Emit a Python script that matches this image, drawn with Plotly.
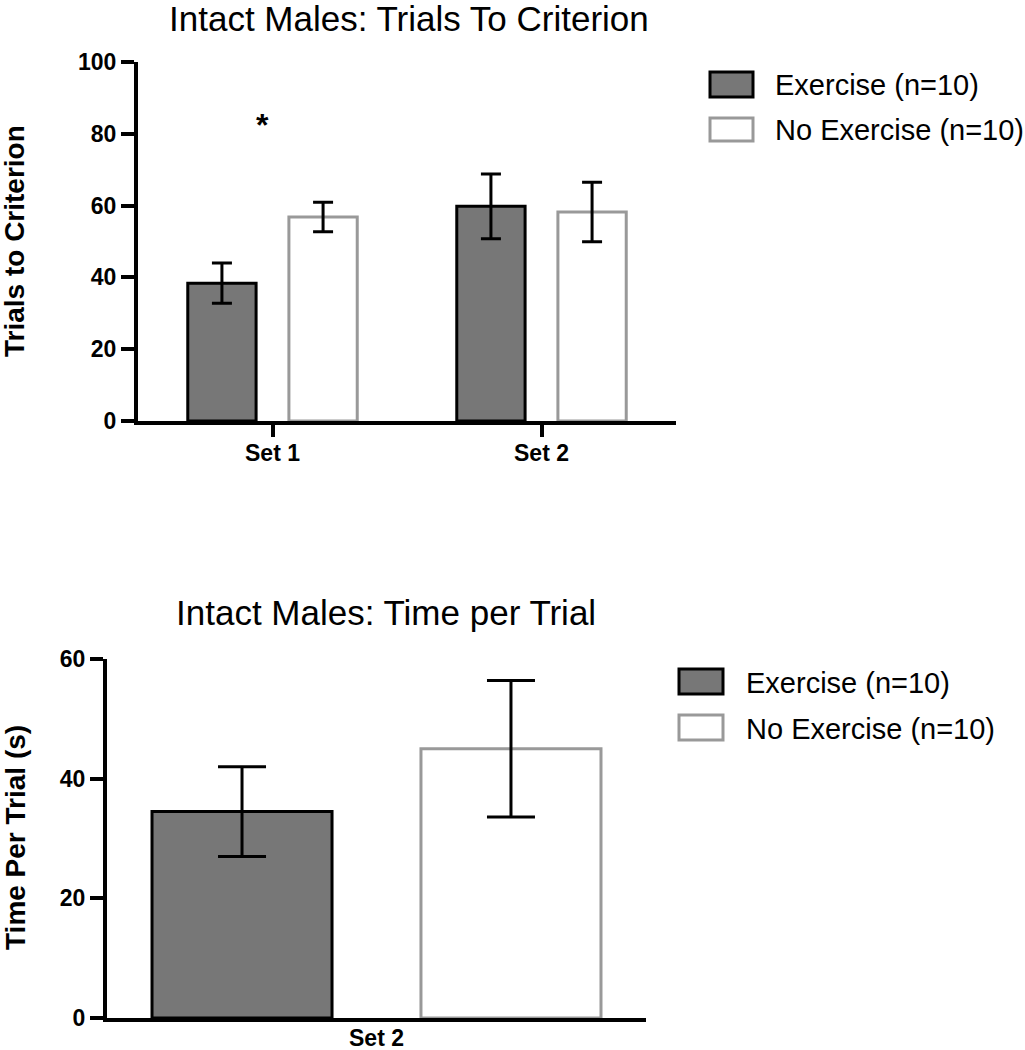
import plotly.graph_objects as go

# data
sets_top = ['Set 1', 'Set 2']
trials_ex = [38.4, 59.8]
trials_ex_err = [5.6, 9.0]
trials_noex = [56.8, 58.2]
trials_noex_err = [4.1, 8.3]

sets_bottom = ['Set 2']
time_ex = [34.5]
time_ex_err = [7.5]
time_noex = [45.0]
time_noex_err = [11.4]

legend_names = ['Exercise (n=10)', 'No Exercise (n=10)']

W, H = 1025, 1050
FONT = 'Liberation Sans, Arial, sans-serif'
EX_FILL, EX_LINE = '#777777', 'black'
NOEX_FILL, NOEX_LINE = 'white', '#999999'


def px(x):
    return x / W


def py(y):
    return 1 - y / H


fig = go.Figure()

# top chart
fig.add_trace(go.Bar(x=sets_top, y=trials_ex, width=0.254, offset=-0.315,
                     marker=dict(color=EX_FILL, line=dict(color=EX_LINE, width=3)),
                     error_y=dict(type='data', array=trials_ex_err, color='black', thickness=3, width=10),
                     xaxis='x', yaxis='y', showlegend=False))
fig.add_trace(go.Bar(x=sets_top, y=trials_noex, width=0.254, offset=0.061,
                     marker=dict(color=NOEX_FILL, line=dict(color=NOEX_LINE, width=3)),
                     error_y=dict(type='data', array=trials_noex_err, color='black', thickness=3, width=10),
                     xaxis='x', yaxis='y', showlegend=False))

# bottom chart
fig.add_trace(go.Bar(x=sets_bottom, y=time_ex, width=0.334, offset=-0.4165,
                     marker=dict(color=EX_FILL, line=dict(color=EX_LINE, width=3)),
                     error_y=dict(type='data', array=time_ex_err, color='black', thickness=3, width=24),
                     xaxis='x2', yaxis='y2', showlegend=False))
fig.add_trace(go.Bar(x=sets_bottom, y=time_noex, width=0.334, offset=0.0825,
                     marker=dict(color=NOEX_FILL, line=dict(color=NOEX_LINE, width=3)),
                     error_y=dict(type='data', array=time_noex_err, color='black', thickness=3, width=24),
                     xaxis='x2', yaxis='y2', showlegend=False))

axis_common = dict(showline=True, linecolor='black', linewidth=4, showgrid=False, zeroline=False,
                   automargin=False,
                   tickfont=dict(family=FONT, size=23, color='black', weight='bold'))

fig.update_layout(
    template='none',
    width=W, height=H,
    margin=dict(l=0, r=0, t=0, b=0, pad=0),
    paper_bgcolor='white', plot_bgcolor='white',
    barmode='overlay',
    font=dict(family=FONT, color='black'),
    xaxis=dict(domain=[px(138), px(676)], anchor='y', range=[-0.5, 1.5],
               ticks='outside', ticklen=12, tickwidth=4, tickcolor='black',
               ticklabelstandoff=-4, **axis_common),
    yaxis=dict(domain=[py(421), py(62)], anchor='x', range=[0, 100], tickvals=[0, 20, 40, 60, 80, 100],
               ticks='outside', ticklen=13, tickwidth=4, tickcolor='black', **axis_common),
    xaxis2=dict(domain=[px(107), px(646)], anchor='y2', range=[-0.5, 0.5],
                ticks='', ticklabelstandoff=-4, **axis_common),
    yaxis2=dict(domain=[py(1018), py(659)], anchor='x2', range=[0, 60], tickvals=[0, 20, 40, 60],
                ticks='outside', ticklen=13, tickwidth=4, tickcolor='black', **axis_common),
)

annotations = [
    dict(text='Intact Males: Trials To Criterion', x=px(409), y=py(19), xanchor='center', yanchor='middle',
         xref='paper', yref='paper', showarrow=False, font=dict(size=35)),
    dict(text='Intact Males: Time per Trial', x=px(386), y=py(612), xanchor='center', yanchor='middle',
         xref='paper', yref='paper', showarrow=False, font=dict(size=35)),
    dict(text='Trials to Criterion', x=px(15), y=py(241), xanchor='center', yanchor='middle',
         xref='paper', yref='paper', textangle=-90, showarrow=False, font=dict(size=28, weight='bold')),
    dict(text='Time Per Trial (s)', x=px(15), y=py(838), xanchor='center', yanchor='middle',
         xref='paper', yref='paper', textangle=-90, showarrow=False, font=dict(size=28, weight='bold')),
    dict(text='*', x='Set 1', y=82.5, xref='x', yref='y', xshift=-10, showarrow=False,
         font=dict(size=32, weight='bold')),
]

shapes = []
# legends, one per chart: box left/right, rows (top, bottom, text centre), text x
for bx0, bx1, rows, tx in [(710, 753, [(72, 97, 85), (118, 141, 130)], 773),
                           (679, 723, [(669, 694, 683), (715, 740, 729)], 744)]:
    for i, (y0, y1, yc) in enumerate(rows):
        fill = EX_FILL if i == 0 else NOEX_FILL
        line = EX_LINE if i == 0 else NOEX_LINE
        shapes.append(dict(type='rect', xref='paper', yref='paper', x0=px(bx0), x1=px(bx1),
                           y0=py(y1), y1=py(y0), fillcolor=fill, line=dict(color=line, width=3)))
        annotations.append(dict(text=legend_names[i], x=px(tx), y=py(yc), xref='paper', yref='paper',
                                xanchor='left', yanchor='middle', showarrow=False, font=dict(size=29)))

fig.update_layout(annotations=annotations, shapes=shapes)

# drop the default 8px body margin so the figure fills the window exactly
fig.write_html("out.html", config={'displayModeBar': False},
               post_script="document.body.style.margin = '0';")
